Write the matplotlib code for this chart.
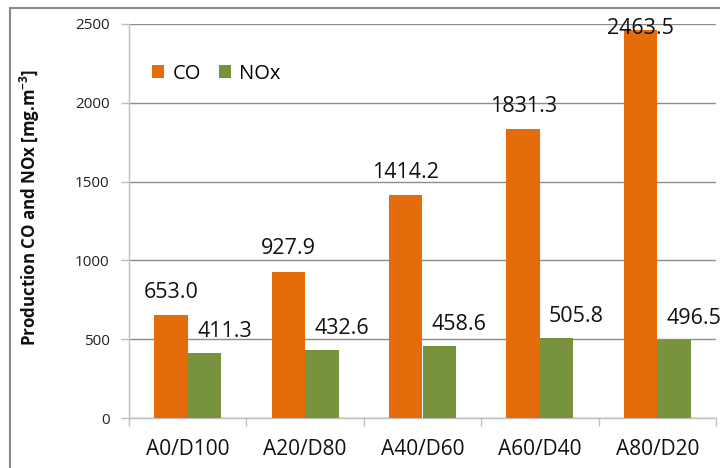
import matplotlib
matplotlib.use("Agg")
import matplotlib.pyplot as plt
from matplotlib.patches import Rectangle
from matplotlib.transforms import blended_transform_factory
import numpy as np

categories = ["A0/D100", "A20/D80", "A40/D60", "A60/D40", "A80/D20"]
co_values = [653.0, 927.9, 1414.2, 1831.3, 2463.5]
nox_values = [411.3, 432.6, 458.6, 505.8, 496.5]
y_ticks = [0, 500, 1000, 1500, 2000, 2500]

CO_COLOR = "#E46C0A"
NOX_COLOR = "#77933C"
GRID_COLOR = "#8C8C8C"
AXIS_COLOR = "#BFBFBF"

plt.rcParams["font.family"] = ["Open Sans", "DejaVu Sans"]

fig = plt.figure(figsize=(7.2, 4.68), dpi=100)
ax = fig.add_axes([129 / 720, 50 / 468, 587 / 720, 394 / 468])

# outer chart border
fig.patches.append(Rectangle((10 / 720, -0.05), 1.1, (460 / 468) + 0.05,
                             transform=fig.transFigure, fill=False,
                             edgecolor="#8A8A8A", linewidth=1.5))

x = np.arange(len(categories))
w = 0.285
ax.bar(x - w / 2, co_values, w, color=CO_COLOR, label="CO", zorder=3)
ax.bar(x + w / 2, nox_values, w, color=NOX_COLOR, label="NOx", zorder=3)

ax.set_xlim(-0.5, len(categories) - 0.5)
ax.set_ylim(0, 2500)
ax.set_yticks(y_ticks)
ax.set_yticklabels([str(t) for t in y_ticks], fontsize=11, color="#222222")
ax.set_xticks(x)
ax.set_xticklabels(categories, fontsize=15, color="#111111")
ax.set_xticks(np.arange(-0.5, len(categories)), minor=True)
ax.tick_params(axis="x", which="major", length=0, pad=15)
ax.tick_params(axis="x", which="minor", length=6, color=AXIS_COLOR, width=1)
ax.tick_params(axis="y", length=6, color=AXIS_COLOR, width=1, pad=8)

for s in ["top", "right"]:
    ax.spines[s].set_visible(False)
for s in ["left", "bottom"]:
    ax.spines[s].set_color(AXIS_COLOR)
    ax.spines[s].set_linewidth(1)

ax.yaxis.grid(True, color=GRID_COLOR, linewidth=1, zorder=0)
ax.set_axisbelow(True)

ax.set_ylabel("Production CO and NOx [mg.m$^{\\mathregular{-3}}$]",
              fontsize=12.2, fontweight="bold", color="#111111")
ax.yaxis.set_label_coords(-0.148, 0.535)

label_kw = dict(fontsize=15.5, color="#111111", ha="center")
top_tr = blended_transform_factory(ax.transData, ax.transAxes)
for xi, v in zip(x, co_values):
    if v > 2350:
        ax.annotate(f"{v:.1f}", (xi - w / 2, 1.0), xycoords=top_tr,
                    xytext=(0, 4), textcoords="offset points", va="top",
                    annotation_clip=False, zorder=4, **label_kw)
    else:
        ax.annotate(f"{v:.1f}", (xi - w / 2, v), xytext=(0, 9),
                    textcoords="offset points", va="bottom", zorder=4,
                    **label_kw)
for xi, v in zip(x, nox_values):
    ax.annotate(f"{v:.1f}", (xi + w / 2 + 0.17, v), xytext=(0, 8),
                textcoords="offset points", va="bottom", zorder=4,
                **label_kw)

ax.legend(loc="upper left", bbox_to_anchor=(0.025, 0.92), ncol=2,
          frameon=False, fontsize=14.5, handlelength=0.62,
          handleheight=0.62, handletextpad=0.4, columnspacing=0.9,
          borderaxespad=0)

fig.savefig("out.png", dpi=100)
